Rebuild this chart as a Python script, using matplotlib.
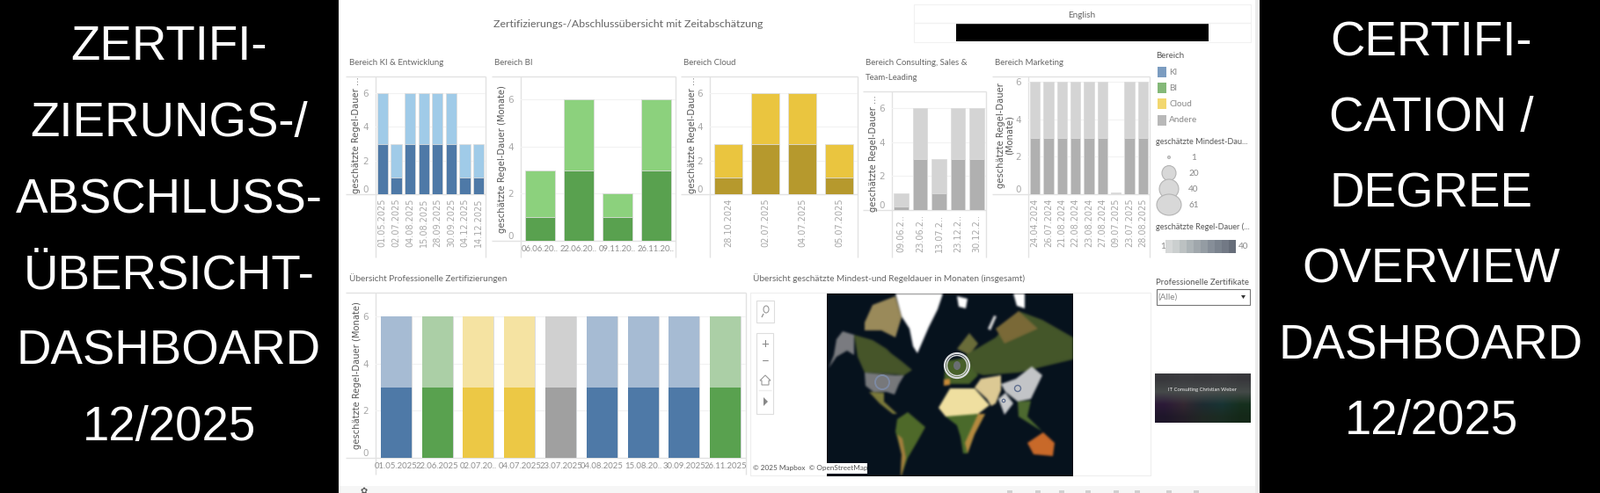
import numpy as np
import matplotlib
matplotlib.use('Agg')
import matplotlib.pyplot as plt
from matplotlib.patches import Rectangle, Ellipse, Polygon

W, H = 1819, 561
UI_FONT = 'Lato'
TITLE_GREY = '#666666'
TICK_GREY = '#a8a8a8'
LINE_GREY = '#e2e2e2'

# data
ki_dates = ['01.05.2025', '02.07.2025', '04.08.2025', '15.08.2025', '28.09.2025', '30.09.2025', '04.12.2025', '14.12.2025']
ki_regel = [6, 3, 6, 6, 6, 6, 3, 3]
ki_mindest = [3, 1, 3, 3, 3, 3, 1, 1]

bi_dates = ['06.06.20..', '22.06.20..', '09.11.20..', '26.11.20..']
bi_regel = [3, 6, 2, 6]
bi_mindest = [1, 3, 1, 3]

cloud_dates = ['28.10.2024', '02.07.2025', '04.07.2025', '05.07.2025']
cloud_regel = [3, 6, 6, 3]
cloud_mindest = [1, 3, 3, 1]

cons_dates = ['09.06.2..', '23.06.2..', '13.07.2..', '23.12.2..', '30.12.2..']
cons_regel = [1, 6, 3, 6, 6]
cons_mindest = [0.2, 3, 1, 3, 3]

mark_dates = ['24.04.2024', '26.07.2024', '21.08.2024', '22.08.2024', '23.08.2024', '27.08.2024', '09.07.2025', '23.07.2025', '28.08.2025']
mark_regel = [6, 6, 6, 6, 6, 6, 0.1, 6, 6]
mark_mindest = [3, 3, 3, 3, 3, 3, 0.05, 3, 3]

pro_dates = ['01.05.2025', '22.06.2025', '02.07.20..', '04.07.2025', '23.07.2025', '04.08.2025', '15.08.20..', '30.09.2025', '26.11.2025']
pro_areas = ['KI', 'BI', 'Cloud', 'Cloud', 'Andere', 'KI', 'KI', 'KI', 'BI']
pro_regel = [6, 6, 6, 6, 6, 6, 6, 6, 6]
pro_mindest = [3, 3, 3, 3, 3, 3, 3, 3, 3]
pro_dark = {'KI': '#4e79a7', 'BI': '#59a14f', 'Cloud': '#ecc845', 'Andere': '#a0a0a0'}
pro_light = {'KI': '#a6bbd3', 'BI': '#abcfa6', 'Cloud': '#f5e3a2', 'Andere': '#d0d0d0'}

legend_areas = ['KI', 'BI', 'Cloud', 'Andere']
legend_colors = ['#7b9cc0', '#84b878', '#f2d76f', '#b8b8b8']
size_labels = ['1', '20', '40', '61']
ramp_colors = ['#d6d8d8', '#cbcfcf', '#bcc1c2', '#adb4b7', '#a0a7ac', '#949ca3', '#868e98', '#7b838e', '#727985', '#666d79']

left_lines = ['ZERTIFI-', 'ZIERUNGS-/', 'ABSCHLUSS-', 'ÜBERSICHT-', 'DASHBOARD', '12/2025']
right_lines = ['CERTIFI-', 'CATION /', 'DEGREE', 'OVERVIEW', 'DASHBOARD', '12/2025']

# rough land shapes for the map, in map pixels
map_shapes = [
    ('#ffffff', [(78, 0), (132, 0), (126, 18), (116, 38), (103, 68), (98, 60), (94, 40), (85, 26)]),
    ('#ffffff', [(148, 3), (160, 6), (158, 17), (150, 15)]),
    ('#ffffff', [(212, 0), (225, 0), (225, 17), (216, 14)]),
    ('#d8d8d8', [(183, 40), (190, 25), (193, 26), (186, 42)]),
    ('#9a8a5a', [(43, 33), (52, 13), (78, 3), (85, 27), (78, 50), (62, 42), (43, 42)]),
    ('#46552a', [(31, 47), (52, 53), (68, 63), (73, 68), (85, 77), (97, 87), (88, 93), (78, 92), (43, 90), (35, 72)]),
    ('#7a7c80', [(11, 52), (18, 43), (31, 47), (31, 70), (23, 65), (11, 72), (2, 85), (8, 70)]),
    ('#77797c', [(43, 90), (78, 93), (88, 93), (82, 103), (77, 115), (68, 112), (53, 112), (44, 105)]),
    ('#7c7a3c', [(48, 112), (65, 113), (65, 123), (80, 137), (75, 137), (60, 125)]),
    ('#4f6a2a', [(80, 143), (92, 135), (112, 152), (102, 170), (92, 187), (85, 207), (84, 207), (85, 183), (78, 157)]),
    ('#a37f3e', [(80, 160), (86, 165), (90, 187), (85, 207), (84, 207), (85, 183)]),
    ('#f0e0a0', [(127, 130), (140, 108), (168, 108), (185, 127), (172, 137), (158, 140), (135, 140)]),
    ('#4a6b2b', [(135, 140), (172, 137), (180, 137), (168, 160), (160, 182), (155, 182), (152, 163), (148, 150)]),
    ('#b58a40', [(172, 137), (180, 137), (168, 160), (160, 182), (157, 170)]),
    ('#6a6c3a', [(148, 63), (162, 45), (172, 57), (162, 70)]),
    ('#47602a', [(133, 103), (135, 77), (158, 73), (172, 93), (162, 103)]),
    ('#c88a3a', [(133, 98), (140, 97), (140, 104), (133, 105)]),
    ('#44562a', [(158, 70), (192, 50), (218, 20), (245, 30), (280, 50), (280, 75), (218, 90), (178, 93), (168, 90)]),
    ('#7a6a38', [(192, 40), (218, 20), (240, 40), (202, 57)]),
    ('#dcc994', [(175, 97), (198, 93), (198, 110), (192, 125), (187, 128), (182, 120), (168, 107)]),
    ('#c3c5c7', [(198, 103), (215, 97), (233, 83), (245, 93), (232, 120), (217, 123), (203, 112)]),
    ('#c9cbcd', [(195, 120), (203, 113), (212, 125), (202, 138)]),
    ('#4d6a30', [(217, 123), (232, 122), (228, 140), (245, 157), (218, 140)]),
    ('#c8692a', [(228, 170), (246, 158), (259, 170), (257, 185), (235, 183)]),
]

fig = plt.figure(figsize=(W / 100, H / 100), dpi=100, facecolor='white')

# whole figure in pixels, for everything that is not a bar
bg = fig.add_axes([0, 0, 1, 1], zorder=0)
bg.set_xlim(0, W)
bg.set_ylim(H, 0)
bg.axis('off')


def rect(x0, y0, x1, y1, color, **kw):
    bg.add_patch(Rectangle((x0, y0), x1 - x0, y1 - y0, facecolor=color, edgecolor=kw.pop('edge', 'none'), **kw))


def line(x0, y0, x1, y1, color=LINE_GREY, lw=1.0):
    bg.plot([x0, x1], [y0, y1], color=color, lw=lw, solid_capstyle='butt')


def label(x, y, s, size=7.5, color=TITLE_GREY, ha='left', va='center', font=UI_FONT, **kw):
    bg.text(x, y, s, fontsize=size, color=color, ha=ha, va=va, family=font, **kw)


def panel(left, right, top, base, y6, bottom, gutter, dates, regel, mindest, dark, light, bar_w, rot=90, size=7.0):
    line(gutter, top, right, top)
    line(gutter, base, right, base)
    line(left, top, left, bottom)
    line(right, top, right, bottom)
    ax = fig.add_axes([left / W, 1 - base / H, (right - left) / W, (base - top) / H], zorder=1)
    ax.patch.set_alpha(0)
    x = np.arange(len(dates))
    ax.bar(x, regel, width=bar_w, color=light, edgecolor='#dddddd', linewidth=0.6, zorder=2)
    ax.bar(x, mindest, width=bar_w, color=dark, edgecolor='#dddddd', linewidth=0.6, zorder=3)
    ax.set_xlim(-0.5, len(dates) - 0.5)
    ax.set_ylim(0, 6 * (base - top) / (base - y6))
    ax.set_yticks([0, 2, 4, 6])
    ax.yaxis.grid(True, color='#f2f2f2', lw=0.8)
    ax.set_axisbelow(True)
    ax.set_xticks(x)
    if rot == 90:
        ax.set_xticklabels(dates, rotation=90, fontsize=size, color=TICK_GREY, family='DejaVu Sans')
    else:
        ax.set_xticklabels(dates, fontsize=size, color='#8f8f8f', family=UI_FONT)
    ax.tick_params(axis='both', length=0)
    ax.tick_params(axis='x', pad=3.5)
    ax.tick_params(axis='y', pad=6, labelsize=7.5, labelcolor=TICK_GREY)
    ax.get_yticklabels()[0].set_va('bottom')
    for s in ax.spines.values():
        s.set_visible(False)
    return ax


# side panels
rect(0, 0, 385, H, 'black')
rect(1432, 0, W, H, 'black')
rect(1427, 0, 1432, H, '#ececec')
rect(385, 553, 1427, H, '#f6f6f6')
left_base = [68, 155, 242, 328, 414, 501]
right_base = [63, 149, 235, 321, 408, 494]
for s, y in zip(left_lines, left_base):
    bg.text(192, y, s, color='white', fontsize=39.3, ha='center', va='baseline', family='Liberation Sans')
for s, y in zip(right_lines, right_base):
    bg.text(1627, y, s, color='white', fontsize=39.3, ha='center', va='baseline', family='Liberation Sans')

# dashboard titles
label(561, 27, 'Zertifizierungs-/Abschlussübersicht mit Zeitabschätzung', size=8.9)
label(397, 71, 'Bereich KI & Entwicklung', size=6.9)
label(562, 71, 'Bereich BI', size=6.9)
label(777, 71, 'Bereich Cloud', size=6.9)
label(984, 71, 'Bereich Consulting, Sales &', size=6.9)
label(984, 88, 'Team-Leading', size=6.9)
label(1131, 71, 'Bereich Marketing', size=6.9)
label(397, 317, 'Übersicht Professionelle Zertifizierungen', size=7.2)
label(856, 317, 'Übersicht geschätzte Mindest-und Regeldauer in Monaten (insgesamt)', size=7.2)

# language box
rect(1039, 5, 1422, 48, 'white', edge='#f1f1f1', lw=0.8)
line(1039, 26, 1422, 26, '#f1f1f1')
label(1230, 17, 'English', size=7.2, ha='center')
rect(1087, 27, 1374, 47, 'black')

# bar panels
panel(427, 552, 87, 221, 106, 293, 393, ki_dates, ki_regel, ki_mindest, '#4e79a7', '#a0cbe8', 0.79)
panel(592, 768, 87, 274, 113, 293, 559, bi_dates, bi_regel, bi_mindest, '#59a14f', '#8cd17d', 0.76, rot=0, size=6.9)
panel(807, 975, 87, 221, 106, 293, 774, cloud_dates, cloud_regel, cloud_mindest, '#b6992d', '#eac53f', 0.74)
panel(1014, 1121, 104, 239, 123, 293, 981, cons_dates, cons_regel, cons_mindest, '#b0b0b0', '#d4d4d4', 0.78)
panel(1169, 1307, 87, 221, 93, 293, 1128, mark_dates, mark_regel, mark_mindest, '#b0b0b0', '#d4d4d4', 0.76)

pro_ax = panel(427, 848, 333, 521, 360, 540, 393, pro_dates, pro_regel, pro_mindest, '#4e79a7', '#a6bbd3', 0.75, rot=0, size=6.9)
x_pro = np.arange(len(pro_dates))
pro_ax.bar(x_pro, pro_regel, width=0.75, color=[pro_light[a] for a in pro_areas], zorder=4)
pro_ax.bar(x_pro, pro_mindest, width=0.75, color=[pro_dark[a] for a in pro_areas], zorder=5)

# y axis titles
ylab = dict(rotation=90, ha='center', va='center', size=7.2, color='#555555', font='DejaVu Sans')
label(405, 154, 'geschätzte Regel-Dauer ...', **ylab)
label(571, 181, 'geschätzte Regel-Dauer (Monate)', **ylab)
label(787, 154, 'geschätzte Regel-Dauer ...', **ylab)
label(993, 175, 'geschätzte Regel-Dauer ...', **ylab)
label(1143, 154, 'geschätzte Regel-Dauer\n(Monate)', linespacing=1.0, **ylab)
label(406, 427, 'geschätzte Regel-Dauer (Monate)', **ylab)

# legends
label(1314, 63, 'Bereich', size=6.9, color='#555555')
for i, (a, c) in enumerate(zip(legend_areas, legend_colors)):
    y = 82 + 18.2 * i
    rect(1316, y - 6, 1326, y + 6, c)
    label(1329, y, a, size=7.2, color='#888888')

label(1314, 161, 'geschätzte Mindest-Dau...', size=6.6, color='#555555')
size_w = [3, 16, 22, 28]
size_h = [3, 17, 22, 24]
for i, (s, w, h) in enumerate(zip(size_labels, size_w, size_h)):
    y = 179 + 18 * i
    el = Ellipse((1329, y), w, h, facecolor='#d8d8d8', edgecolor='#b4b4b4', lw=0.8)
    bg.add_patch(el)
    label(1354 - 3 * (i > 0), y, s, size=7.2, color='#888888')

label(1314, 258, 'geschätzte Regel-Dauer (...', size=6.6, color='#555555')
label(1319, 280, '1', size=7.2, color='#888888')
label(1408, 280, '40', size=7.2, color='#888888')
step = (1405 - 1325) / len(ramp_colors)
for i, c in enumerate(ramp_colors):
    rect(1325 + i * step, 273, 1325 + (i + 1) * step, 288, c)

label(1314, 321, 'Professionelle Zertifikate', size=6.9, color='#555555')
rect(1314.5, 329, 1421, 347, 'white', edge='#777777', lw=0.8)
label(1316, 338, '(Alle)', size=7.2, color='#888888')
bg.add_patch(Polygon([(1411, 336), (1416, 336), (1413.5, 340)], facecolor='#333333'))

# map frame and controls
rect(853, 333, 1308, 541, 'white', edge='#eeeeee', lw=0.8)
rect(860, 342, 880, 367, 'white', edge='#dddddd', lw=0.8)
rect(860, 379, 879, 471, 'white', edge='#dddddd', lw=0.8)
bg.add_patch(Ellipse((871, 352), 6, 8, facecolor='none', edgecolor='#999999', lw=0.8))
line(868, 357, 866, 361, '#999999')
label(870, 392, '+', size=11, color='#888888', ha='center')
label(870, 412, '−', size=11, color='#888888', ha='center')
bg.add_patch(Polygon([(864, 433), (870, 427), (876, 433), (874, 433), (874, 438), (866, 438), (866, 433)], facecolor='white', edgecolor='#999999', lw=0.8))
line(862, 444, 877, 444, '#eeeeee')
bg.add_patch(Polygon([(868, 452), (873, 457), (868, 462)], facecolor='#888888'))

# map image: shapes drawn once, blurred a little like the screenshot
mw, mh = 280, 208
off = plt.figure(figsize=(mw / 100, mh / 100), dpi=100)
oa = off.add_axes([0, 0, 1, 1])
oa.set_xlim(0, mw)
oa.set_ylim(mh, 0)
oa.axis('off')
oa.add_patch(Rectangle((0, 0), mw, mh, facecolor='#07121e'))
for c, pts in map_shapes:
    oa.add_patch(Polygon(pts, facecolor=c, edgecolor='none'))
off.canvas.draw()
img = np.asarray(off.canvas.buffer_rgba())[:, :, :3].astype(float)
plt.close(off)
kernel = np.array([1, 2, 3, 2, 1]) / 9
for ch in range(3):
    img[:, :, ch] = np.apply_along_axis(lambda r: np.convolve(r, kernel, mode='same'), 0, img[:, :, ch])
    img[:, :, ch] = np.apply_along_axis(lambda r: np.convolve(r, kernel, mode='same'), 1, img[:, :, ch])
bg.imshow(img.astype(np.uint8), extent=(940, 940 + mw, 334 + mh, 334), aspect='auto', zorder=1)
bg.set_xlim(0, W)
bg.set_ylim(H, 0)

# certificate rings on the map
for cx, cy, d, ec, lw in [(1088, 416, 28, '#d9dbde', 1.6), (1088, 416, 23, '#d9dbde', 1.0),
                          (1003, 435, 16, '#7d8aa3', 1.4), (1157, 442, 7, '#5f6f8f', 1.0), (1141, 456, 3.5, '#5f6f8f', 0.9)]:
    bg.add_patch(Ellipse((cx, cy), d, d, facecolor='none', edgecolor=ec, lw=lw, zorder=2))
bg.add_patch(Ellipse((1088, 416), 8, 10, facecolor='#6a6e73', edgecolor='none', zorder=2))

rect(940, 527, 986, 539, 'white', zorder=3)
label(856, 533, '© 2025 Mapbox  © OpenStreetMap', size=5.9, color='#555555', zorder=4)

# thumbnail
thumb = np.array([[[56, 56, 60], [60, 60, 64], [58, 58, 62], [60, 60, 64], [56, 56, 60]],
                  [[70, 74, 74], [72, 76, 76], [74, 78, 78], [70, 76, 74], [68, 74, 72]],
                  [[44, 26, 56], [52, 40, 50], [30, 44, 50], [24, 52, 52], [22, 48, 30]],
                  [[30, 22, 42], [36, 30, 40], [32, 40, 36], [26, 44, 34], [20, 40, 24]]], dtype=np.uint8)
bg.imshow(thumb, extent=(1313, 1422, 481, 425), aspect='auto', interpolation='bilinear', zorder=1)
bg.set_xlim(0, W)
bg.set_ylim(H, 0)
label(1367, 443, 'IT Consulting Christian Weber', size=4.2, color='#f0f0f0', ha='center', zorder=3)

# bottom toolbar, only the tops show
for x in [1148, 1180, 1207, 1237, 1269, 1293, 1329, 1360]:
    rect(x - 3, 558, x + 3, H, '#d0d0d0')
label(414, 559, '✿', size=7, color='#555555', ha='center', font='DejaVu Sans')

fig.savefig('out.png', dpi=100, facecolor='white')
